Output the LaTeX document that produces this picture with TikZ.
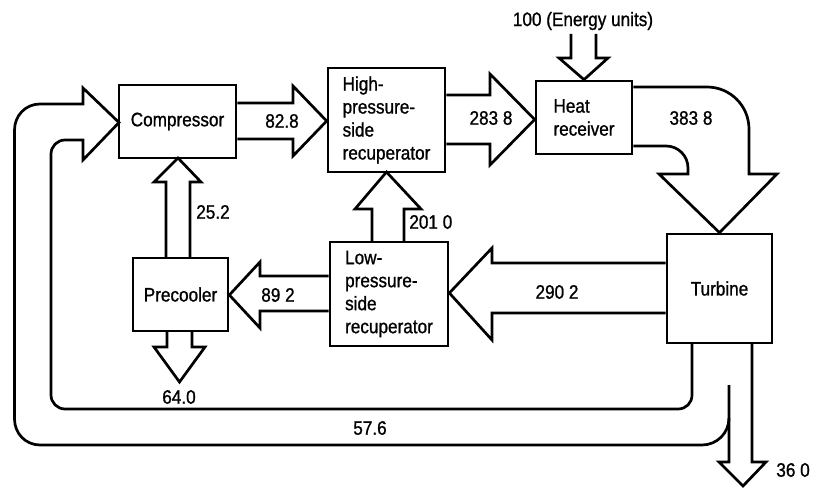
\documentclass[tikz,border=0pt]{standalone}
\usepackage{fontspec}
\setmainfont{Liberation Sans}[FakeStretch=0.88,FakeBold=1]
\usetikzlibrary{calc}
\begin{document}
\begin{tikzpicture}[x=1pt,y=-1pt,line width=2.7pt,line join=miter,
  box/.style={draw,rectangle,inner sep=0pt,align=left,
    font=\fontsize{19.5}{23}\selectfont},
  lbl/.style={inner sep=0pt,font=\fontsize{19.5}{22}\selectfont},
  flow/.style={draw,line join=miter}]
\useasboundingbox (0,0) rectangle (815,500);

% components
\node[box,minimum width=117pt,minimum height=73pt]  (comp) at (177.5,121.5) {Compressor};
\node[box,minimum width=117pt,minimum height=104pt] (hp)   at (386.5,120)   {High-\\pressure-\\side\\recuperator};
\node[box,minimum width=96pt,minimum height=73pt]   (hr)   at (584,117.5)   {Heat\\receiver};
\node[box,minimum width=105pt,minimum height=109pt] (turb) at (719.5,288.5) {Turbine};
\node[box,minimum width=118pt,minimum height=104pt] (lp)   at (389,294)     {Low-\\pressure-\\side\\recuperator};
\node[box,minimum width=95pt,minimum height=73pt]   (pre)  at (180.5,294.5) {Precooler};

% heat input
\coordinate (hin) at (583.5,34);
\draw[flow] (hin) ++(-12.5,0) -- (571,58) -- (559,58) -- (hr.north) -- (608,58) -- (596,58) -- (596,34);
\node[lbl] (qin) at (583,21) {100 (Energy units)};

% compressor -> high-pressure recuperator
\draw[flow] (comp.east |- 0,103) -- (293,103) -- (293,86) -- (hp.west |- 0,121) -- (293,156) -- (293,139) -- (comp.east |- 0,139);
\node[lbl] (f828) at (282,121) {82.8};

% high-pressure recuperator -> heat receiver
\draw[flow] (hp.east |- 0,95) -- (490,95) -- (490,74) -- (hr.west |- 0,119.5) -- (490,165) -- (490,144) -- (hp.east |- 0,144);
\node[lbl] (f2838) at (491,118) {283 8};

% heat receiver -> turbine
\draw[flow] (hr.east |- 0,87) -- (707,87) .. controls (730.2,87) and (749,105.8) .. (749,129)
  -- (749,174) -- (777,174) -- (turb.north) -- (659,174) -- (688,174) -- (688,168)
  .. controls (688,155.8) and (678.2,146) .. (666,146) -- (hr.east |- 0,146);
\node[lbl] (f3838) at (691,118) {383 8};

% turbine -> low-pressure recuperator
\draw[flow] (turb.west |- 0,263) -- (492,263) -- (492,248) -- (lp.east |- 0,293) -- (492,340) -- (492,313) -- (turb.west |- 0,313);
\node[lbl] (f2902) at (557,292) {290 2};

% low-pressure recuperator -> precooler
\draw[flow] (lp.west |- 0,276) -- (260,276) -- (260,262) -- (pre.east |- 0,295) -- (260,328) -- (260,311) -- (lp.west |- 0,311);
\node[lbl] (f892) at (278,295) {89 2};

% low-pressure recuperator -> high-pressure recuperator
\draw[flow] (372,242) -- (372,209) -- (355,209) -- (hp.south |- 0,172) -- (421,209) -- (404,209) -- (404,242);
\node[lbl,anchor=west] (f2010) at (408,222) {201 0};

% precooler -> compressor
\draw[flow] (166,258) -- (166,182) -- (154,182) -- (178,158) -- (201,182) -- (190,182) -- (190,258);
\node[lbl] (f252) at (213,212) {25.2};

% precooler heat rejection
\draw[flow] (167,331) -- (167,347) -- (154,347) -- (179.5,382) -- (205,347) -- (192,347) -- (192,331);
\node[lbl] (f640) at (179,397) {64.0};

% turbine -> compressor loop
\draw[flow] (692,343) -- (692,395) .. controls (692,403) and (686,409) .. (678,409)
  -- (65,409) .. controls (57.3,409) and (51,402.7) .. (51,395)
  -- (51,154) .. controls (51,146.3) and (57.3,140) .. (65,140)
  -- (83,140) -- (83,160) -- (119,122.5) -- (83,88) -- (83,104)
  -- (40,104) .. controls (25.6,104) and (14.5,115.6) .. (14.5,130)
  -- (14.5,419) .. controls (14.5,433.4) and (25.6,445) .. (40,445)
  -- (702,445) .. controls (717,445) and (729,433) .. (729,418);
\node[lbl] (f576) at (370,428) {57.6};

% turbine work output
\draw[flow] (729,385) -- (729,462) -- (719,462) -- (743,486) -- (766,462) -- (752,462) -- (752,343);
\node[lbl,anchor=west] (f360) at (775,470) {36 0};
\end{tikzpicture}
\end{document}
